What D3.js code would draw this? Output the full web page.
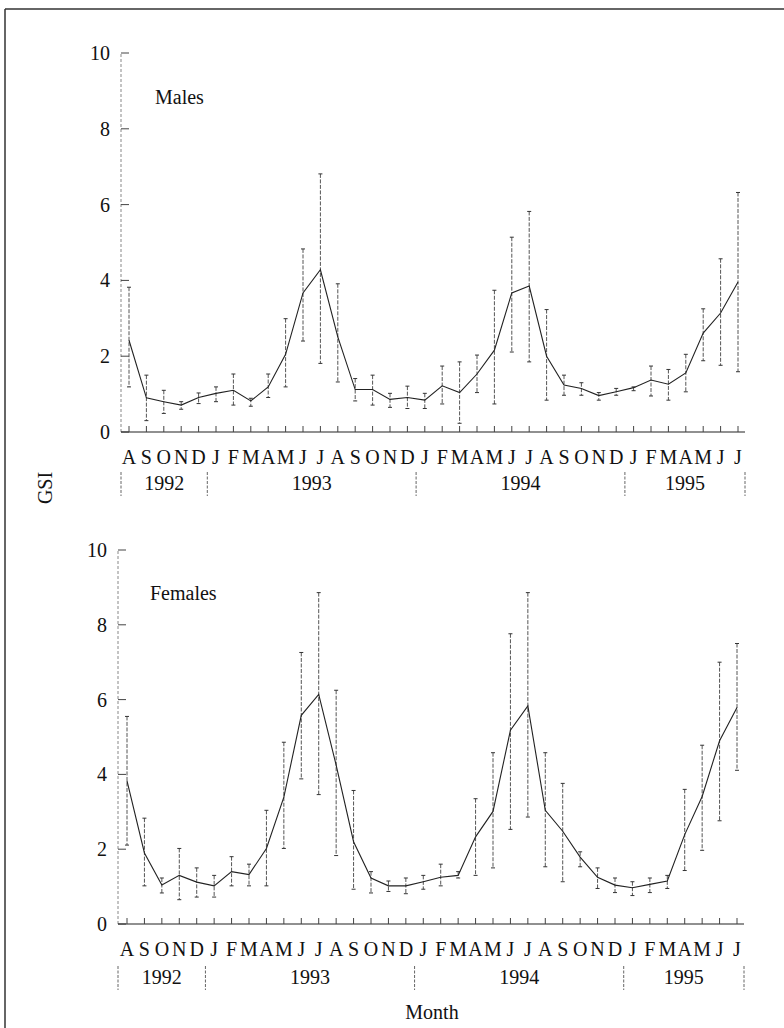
<!DOCTYPE html>
<html><head><meta charset="utf-8">
<script src="https://cdn.jsdelivr.net/npm/d3@7"></script>
<style>
html,body{margin:0;padding:0;background:#fff;}
svg text{font-family:"Liberation Serif","DejaVu Serif",serif;fill:#111;}
</style></head>
<body><svg id="c" width="784" height="1028"></svg>
<script>
const months = ["A","S","O","N","D","J","F","M","A","M","J","J","A","S","O","N","D","J","F","M","A","M","J","J","A","S","O","N","D","J","F","M","A","M","J","J"];
const years = ["1992","1993","1994","1995"];
const yearStart = [0,5,17,29]; // index of first month in each year
const yTicks = [0,2,4,6,8,10];

const maleMean = [2.42,0.9,0.8,0.71,0.91,1.02,1.1,0.82,1.19,2.05,3.67,4.28,2.51,1.12,1.12,0.86,0.91,0.84,1.22,1.04,1.53,2.16,3.67,3.85,2.0,1.24,1.15,0.96,1.06,1.17,1.37,1.26,1.56,2.61,3.14,3.96];
const maleHi   = [3.82,1.5,1.1,0.8,1.03,1.19,1.53,0.89,1.53,2.99,4.83,6.81,3.91,1.41,1.5,1.02,1.21,1.02,1.74,1.85,2.03,3.74,5.14,5.82,3.23,1.5,1.3,1.04,1.15,1.19,1.74,1.65,2.05,3.25,4.57,6.32];
const maleLo   = [1.19,0.3,0.49,0.6,0.75,0.8,0.71,0.68,0.91,1.19,2.4,1.81,1.32,0.82,0.71,0.65,0.62,0.62,0.74,0.23,1.04,0.74,2.11,1.85,0.84,0.97,0.97,0.84,0.97,1.09,0.95,0.84,1.06,1.88,1.76,1.59];

const femMean = [3.83,1.9,1.04,1.3,1.12,1.02,1.4,1.32,2.02,3.39,5.58,6.14,4.25,2.2,1.23,1.02,1.02,1.13,1.25,1.3,2.33,3.01,5.18,5.83,3.04,2.48,1.79,1.25,1.04,0.97,1.06,1.15,2.39,3.41,4.9,5.79];
const femHi   = [5.55,2.83,1.23,2.02,1.5,1.3,1.8,1.6,3.04,4.86,7.26,8.86,6.25,3.57,1.4,1.15,1.23,1.3,1.6,1.4,3.35,4.58,7.76,8.86,4.58,3.76,1.93,1.5,1.23,1.13,1.23,1.3,3.6,4.78,7.0,7.5];
const femLo   = [2.11,1.02,0.83,0.65,0.72,0.72,1.02,1.02,1.02,2.02,3.88,3.46,1.83,0.93,0.83,0.87,0.81,0.93,1.02,1.23,1.3,1.5,2.53,2.86,1.53,1.13,1.53,0.95,0.84,0.76,0.84,0.95,1.43,1.97,2.76,4.11];

const svg = d3.select("#c");

// frame
svg.append("line").attr("x1",5).attr("x2",784).attr("y1",9).attr("y2",9).attr("stroke","#333").attr("stroke-width",1.5);
svg.append("line").attr("x1",5).attr("x2",5).attr("y1",9).attr("y2",1028).attr("stroke","#333").attr("stroke-width",1.5);

function panel(opt){
  const g = svg.append("g");
  const x = d3.scaleLinear().domain([0,35]).range([opt.x0,opt.x1]);
  const y = d3.scaleLinear().domain([0,10]).range([opt.y0,opt.y10]);
  const idx = d3.range(months.length);

  // y axis (faint dashed)
  g.append("line").attr("x1",opt.ax).attr("x2",opt.ax).attr("y1",y(0)).attr("y2",y(10))
    .attr("stroke","#888").attr("stroke-width",1).attr("stroke-dasharray","3,2");
  g.selectAll(".yt").data(yTicks).enter().append("line")
    .attr("x1",opt.ax).attr("x2",opt.ax+8).attr("y1",d=>y(d)).attr("y2",d=>y(d))
    .attr("stroke","#444").attr("stroke-width",1);
  g.selectAll(".yl").data(yTicks).enter().append("text")
    .attr("x",opt.ax-11).attr("y",d=>y(d)).attr("dy","0.35em").attr("text-anchor","end")
    .attr("font-size",20).text(d=>d);

  // x axis
  g.append("line").attr("x1",opt.ax).attr("x2",opt.axEnd).attr("y1",y(0)).attr("y2",y(0))
    .attr("stroke","#222").attr("stroke-width",1.2);
  g.selectAll(".xt").data(idx).enter().append("line")
    .attr("x1",d=>x(d)).attr("x2",d=>x(d)).attr("y1",y(0)).attr("y2",y(0)-6)
    .attr("stroke","#444").attr("stroke-width",1);
  g.selectAll(".xl").data(idx).enter().append("text")
    .attr("x",d=>x(d)).attr("y",y(0)+opt.mOff).attr("text-anchor","middle")
    .attr("font-size",20).text(d=>months[d]);

  // year separators and labels
  const bounds = [opt.ax, x(4.5), x(16.5), x(28.5), opt.axEnd];
  g.selectAll(".ys").data(bounds).enter().append("line")
    .attr("x1",d=>d).attr("x2",d=>d).attr("y1",y(0)+opt.yOff-18).attr("y2",y(0)+opt.yOff+6)
    .attr("stroke","#666").attr("stroke-width",1).attr("stroke-dasharray","3,1.5");
  g.selectAll(".yr").data(years).enter().append("text")
    .attr("x",(d,i)=>(bounds[i]+bounds[i+1])/2).attr("y",y(0)+opt.yOff)
    .attr("text-anchor","middle").attr("font-size",20).text(d=>d);

  // error bars
  const eb = g.selectAll(".eb").data(idx).enter().append("g");
  eb.append("line").attr("x1",d=>x(d)).attr("x2",d=>x(d)).attr("y1",d=>y(opt.hi[d])).attr("y2",d=>y(opt.lo[d]))
    .attr("stroke","#555").attr("stroke-width",1).attr("stroke-dasharray","4,1.5");
  eb.append("line").attr("x1",d=>x(d)-2).attr("x2",d=>x(d)+2).attr("y1",d=>y(opt.hi[d])).attr("y2",d=>y(opt.hi[d]))
    .attr("stroke","#333").attr("stroke-width",1);
  eb.append("line").attr("x1",d=>x(d)-2).attr("x2",d=>x(d)+2).attr("y1",d=>y(opt.lo[d])).attr("y2",d=>y(opt.lo[d]))
    .attr("stroke","#333").attr("stroke-width",1);

  // mean line
  const line = d3.line().x(d=>x(d)).y(d=>y(opt.mean[d]));
  g.append("path").datum(idx).attr("d",line).attr("fill","none").attr("stroke","#222").attr("stroke-width",1.1);

  g.append("text").attr("x",opt.lx).attr("y",opt.ly).attr("font-size",20).text(opt.label);
}

panel({x0:129,x1:738,ax:121,axEnd:745,y0:432,y10:53,mOff:32,yOff:58,
  mean:maleMean,hi:maleHi,lo:maleLo,label:"Males",lx:155,ly:104});
panel({x0:127,x1:737,ax:118,axEnd:744,y0:924,y10:550,mOff:32,yOff:60,
  mean:femMean,hi:femHi,lo:femLo,label:"Females",lx:150,ly:600});

svg.append("text").attr("x",432).attr("y",1019).attr("text-anchor","middle").attr("font-size",20).text("Month");
svg.append("text").attr("transform","translate(52,488) rotate(-90)").attr("text-anchor","middle").attr("font-size",20).text("GSI");
</script></body></html>
